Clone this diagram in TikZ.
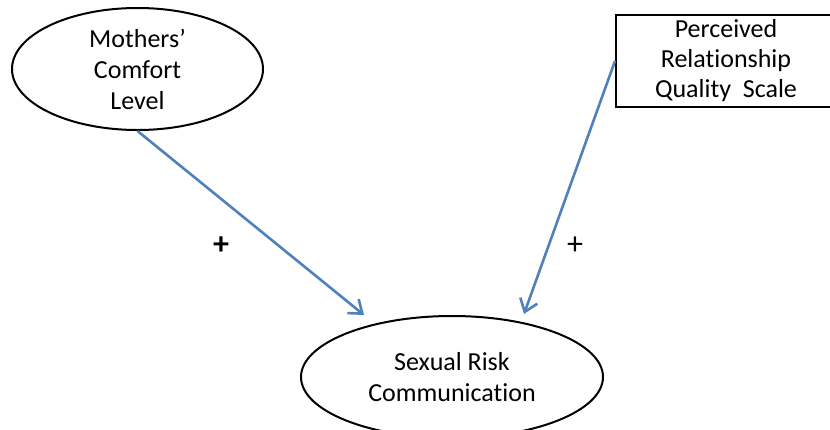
\documentclass[tikz,border=0pt]{standalone}
\usepackage{fontspec}
\setmainfont{Carlito}[Ligatures=NoCommon]
\usetikzlibrary{shapes.geometric,arrows.meta}
\definecolor{linkblue}{RGB}{79,129,189}
\tikzset{
  construct/.style={draw=black, line width=2pt, ellipse, inner sep=0pt, align=center,
    font=\fontsize{26}{31}\selectfont},
  scalebox/.style={draw=black, line width=2pt, rectangle, inner sep=0pt, align=center,
    font=\fontsize{26}{30}\selectfont},
  effect/.style={draw=linkblue, line width=2.6pt,
    -{Straight Barb[length=12pt,width=18pt,line width=2.6pt]}},
  sign/.style={font=\fontsize{32}{32}\selectfont, inner sep=0pt}
}
\begin{document}
\begin{tikzpicture}[x=1pt,y=-1pt]
  \fill[white] (0,0) rectangle (830,429);
  \clip (0,0) rectangle (830,429);

  % latent constructs
  \node[construct, minimum width=251pt, minimum height=122pt] (mom) at (137.5,69)
    {Mothers’\\Comfort\\Level};
  \node[construct, minimum width=302pt, minimum height=122pt] (srk) at (452,377)
    {Sexual Risk\\Communication};

  % observed scale
  \node[scalebox, minimum width=220pt, minimum height=92pt] (prq) at (726,61)
    {Perceived\\Relationship\\Quality\ \ Scale};

  % arrow tips stop short of the outcome ellipse
  \coordinate (tipA) at (364,315);
  \coordinate (tipB) at (524,314);

  \draw[effect] (mom.south) -- (tipA);
  \draw[effect] (prq.west) -- (tipB);

  % signs of the effects
  \node[sign] (plusA) at (221,246) {\textbf{+}};
  \node[sign] (plusB) at (575,246) {+};
\end{tikzpicture}
\end{document}
